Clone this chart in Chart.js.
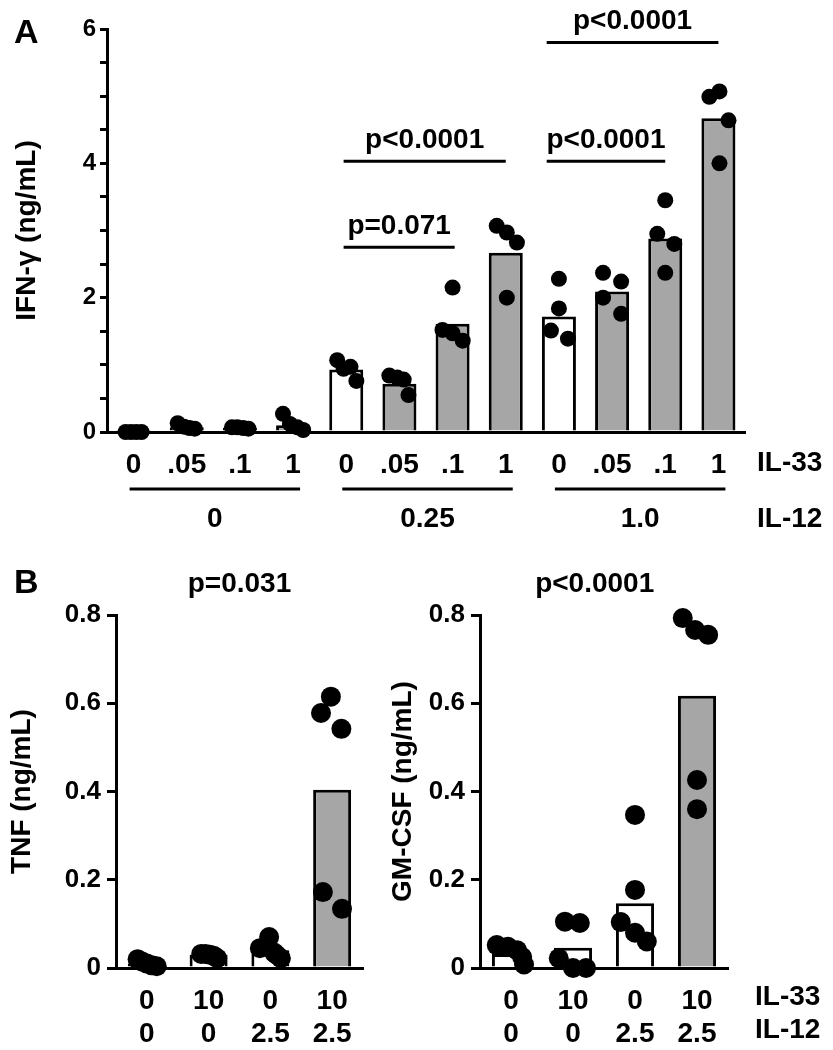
<!DOCTYPE html>
<html lang="en">
<head>
<meta charset="UTF-8" />
<title>IL-33 and IL-12 cytokine release</title>
<script src="https://cdn.jsdelivr.net/npm/chart.js@4"></script>
<style>
  body { margin: 0; background: #fff; }
  .wrap { position: relative; width: 833px; height: 1050px; }
  canvas { position: absolute; }
  #chartA { left: 0; top: 0; }
  #chartTNF { left: 0; top: 545px; }
  #chartGM { left: 385px; top: 545px; }
</style>
</head>
<body>
<div class="wrap">
  <canvas id="chartA" width="833" height="545"></canvas>
  <canvas id="chartTNF" width="385" height="505"></canvas>
  <canvas id="chartGM" width="448" height="505"></canvas>
</div>

<script>
  // ---------- panel A : IFN-gamma ----------
  const il33A = ['0', '.05', '.1', '1', '0', '.05', '.1', '1', '0', '.05', '.1', '1'];
  const il12A = ['0', '0.25', '1.0'];
  const ifnMean = [0.01, 0.07, 0.06, 0.1, 0.93, 0.72, 1.61, 2.67, 1.72, 2.09, 2.88, 4.67];
  const ifnPoints = [
    [0.0, 0.0, 0.0, 0.0],
    [0.13, 0.08, 0.06, 0.05],
    [0.07, 0.07, 0.06, 0.05],
    [0.27, 0.12, 0.07, 0.03],
    [1.07, 0.97, 0.94, 0.76],
    [0.84, 0.81, 0.78, 0.55],
    [2.15, 1.52, 1.47, 1.36],
    [3.07, 2.97, 2.82, 2.0],
    [2.28, 1.84, 1.51, 1.39],
    [2.37, 2.24, 2.0, 1.76],
    [3.45, 2.95, 2.8, 2.37],
    [4.99, 5.07, 4.64, 4.0]
  ];
  // horizontal scatter of the dots, in category widths
  const ifnSpread = [
    [-0.15, -0.05, 0.05, 0.15],
    [-0.17, -0.05, 0.05, 0.15],
    [-0.15, -0.05, 0.06, 0.16],
    [-0.19, -0.06, 0.08, 0.19],
    [-0.17, 0.08, -0.05, 0.19],
    [-0.19, -0.04, 0.08, 0.17],
    [0, -0.19, 0, 0.19],
    [-0.17, 0.02, 0.21, 0.02],
    [0, 0, -0.15, 0.17],
    [-0.17, 0.17, -0.17, 0.17],
    [0, -0.15, 0.17, 0],
    [-0.17, 0.02, 0.19, 0.02]
  ];
  const ifnFilled = [false, true, true, true, false, true, true, true, false, true, true, true];
  // [from category, to category, height, label]
  const ifnBrackets = [
    [3.95, 6.04, 2.75, 'p=0.071'],
    [3.95, 7.0, 4.03, 'p<0.0001'],
    [7.77, 10.0, 4.03, 'p<0.0001'],
    [7.77, 11.0, 5.8, 'p<0.0001']
  ];

  // ---------- panel B : TNF and GM-CSF ----------
  const il33B = ['0', '10', '0', '10'];
  const il12B = ['0', '0', '2.5', '2.5'];
  const tnfMean = [0.01, 0.03, 0.04, 0.404];
  const tnfPoints = [
    [0.02, 0.015, 0.01, 0.006, 0.004],
    [0.032, 0.032, 0.03, 0.028, 0.022],
    [0.045, 0.07, 0.035, 0.03, 0.022],
    [0.615, 0.578, 0.542, 0.172, 0.134]
  ];
  const tnfSpread = [
    [-0.15, -0.08, 0, 0.08, 0.16],
    [-0.12, -0.05, 0.02, 0.08, 0.14],
    [-0.17, -0.02, 0.06, 0.1, 0.17],
    [-0.02, -0.18, 0.15, -0.15, 0.16]
  ];
  const gmMean = [0.032, 0.046, 0.147, 0.617];
  const gmPoints = [
    [0.052, 0.048, 0.04, 0.025, 0.008],
    [0.105, 0.102, 0.022, 0.0, 0.0],
    [0.347, 0.177, 0.104, 0.08, 0.06],
    [0.793, 0.766, 0.755, 0.426, 0.36]
  ];
  const gmSpread = [
    [-0.23, -0.05, 0.1, 0.18, 0.21],
    [-0.13, 0.11, -0.23, 0, 0.21],
    [0, 0, -0.23, 0, 0.19],
    [-0.23, -0.03, 0.18, 0, 0]
  ];
  const filledB = [false, false, false, true];
  const pTNF = 'p=0.031';
  const pGM = 'p<0.0001';

  const FONT = "'Liberation Sans', Arial, Helvetica, sans-serif";
  const GREY = '#a6a6a6';

  function dots(points, spread) {
    return points.flatMap((vals, i) => vals.map((v, k) => ({ x: i + spread[i][k], y: v })));
  }

  function text(ctx, str, x, y, size, align, base) {
    ctx.save();
    ctx.fillStyle = '#000';
    ctx.font = 'bold ' + size + 'px ' + FONT;
    ctx.textAlign = align || 'center';
    ctx.textBaseline = base || 'alphabetic';
    ctx.fillText(str, x, y);
    ctx.restore();
  }

  function hline(ctx, x1, x2, y) {
    ctx.save();
    ctx.strokeStyle = '#000';
    ctx.lineWidth = 3;
    ctx.beginPath();
    ctx.moveTo(x1, y);
    ctx.lineTo(x2, y);
    ctx.stroke();
    ctx.restore();
  }

  function baseOptions(cfg) {
    return {
      responsive: false,
      animation: false,
      layout: { padding: cfg.padding },
      plugins: { legend: { display: false }, tooltip: { enabled: false } },
      scales: {
        x: {
          type: 'category',
          offset: true,
          grid: { display: false },
          border: { color: '#000', width: 3 },
          ticks: {
            color: '#000', autoSkip: false, maxRotation: 0, padding: cfg.xPad,
            font: { family: FONT, size: 28, weight: 'bold', lineHeight: 1.18 }
          },
          afterFit(s) { s.height = cfg.xHeight; }
        },
        // hidden linear twin of the category axis, used for the jittered dots
        xd: { type: 'linear', display: false, offset: false, min: -0.5, max: cfg.n - 0.5 },
        y: {
          min: 0, max: cfg.yMax,
          border: { color: '#000', width: 3 },
          grid: { drawOnChartArea: false, color: '#000', lineWidth: 3, tickLength: cfg.tickLen },
          ticks: {
            color: '#000', autoSkip: false, stepSize: cfg.step, padding: cfg.yPad,
            font: { family: FONT, size: cfg.yFont, weight: 'bold' },
            callback: cfg.tickLabel
          },
          title: {
            display: true, text: cfg.title, color: '#000',
            padding: { top: cfg.titlePad, bottom: 0 },
            font: { family: FONT, size: 28, weight: 'bold' }
          },
          afterFit(s) { s.width = cfg.yWidth; }
        }
      }
    };
  }

  function makeData(labels, means, filled, points, spread, barPct, radius) {
    return {
      labels: labels,
      datasets: [
        {
          type: 'bar', data: means, xAxisID: 'x', yAxisID: 'y',
          backgroundColor: filled.map(f => f ? GREY : '#fff'),
          borderColor: '#000', borderWidth: 3,
          grouped: false,
          barPercentage: barPct, categoryPercentage: 1, order: 1
        },
        {
          type: 'scatter', data: dots(points, spread), xAxisID: 'xd', yAxisID: 'y',
          pointRadius: radius, pointBackgroundColor: '#000', pointBorderWidth: 0,
          clip: false, order: 0
        }
      ]
    };
  }

  // ---------- chart A ----------
  const annotA = {
    id: 'annotA',
    afterDraw(chart) {
      const ctx = chart.ctx;
      const xs = chart.scales.xd, ys = chart.scales.y, area = chart.chartArea;
      text(ctx, 'A', 14, 43, 34, 'left');
      ifnBrackets.forEach(([a, b, h, label]) => {
        const x1 = xs.getPixelForValue(a), x2 = xs.getPixelForValue(b), y = ys.getPixelForValue(h);
        hline(ctx, x1, x2, y);
        text(ctx, label, (x1 + x2) / 2, y - 13, 28);
      });
      il12A.forEach((lab, g) => {
        const x1 = xs.getPixelForValue(4 * g) - 4, x2 = xs.getPixelForValue(4 * g + 3) + 7;
        hline(ctx, x1, x2, area.bottom + 57);
        text(ctx, lab, (x1 + x2) / 2, area.bottom + 87, 28, 'center', 'middle');
      });
      text(ctx, 'IL-33', 757, area.bottom + 31, 28, 'left', 'middle');
      text(ctx, 'IL-12', 757, area.bottom + 87, 28, 'left', 'middle');
    }
  };

  new Chart(document.getElementById('chartA'), {
    type: 'bar',
    data: makeData(il33A, ifnMean, ifnFilled, ifnPoints, ifnSpread, 0.64, 8),
    options: baseOptions({
      padding: { top: 29, right: 88, left: 0, bottom: 0 },
      n: 12, xPad: 9, xHeight: 113, yMax: 6, step: 0.5, tickLen: 7, yPad: 4, yFont: 24,
      tickLabel: v => (v % 2 === 0 ? v : ''),
      title: 'IFN-γ (ng/mL)', titlePad: 10, yWidth: 107
    }),
    plugins: [annotA]
  });

  // ---------- chart B ----------
  function annotB(id, letter, pText, pAt, rowLabels) {
    return {
      id: id,
      afterDraw(chart) {
        const ctx = chart.ctx;
        const xs = chart.scales.xd, area = chart.chartArea;
        if (letter) text(ctx, letter, 14, 48, 34, 'left');
        text(ctx, pText, xs.getPixelForValue(pAt), 47, 28);
        if (rowLabels) {
          text(ctx, 'IL-33', 370, area.bottom + 29, 28, 'left', 'middle');
          text(ctx, 'IL-12', 370, area.bottom + 62, 28, 'left', 'middle');
        }
      }
    };
  }

  const labelsB = il33B.map((v, i) => [v, il12B[i]]);

  new Chart(document.getElementById('chartTNF'), {
    type: 'bar',
    data: makeData(labelsB, tnfMean, filledB, tnfPoints, tnfSpread, 0.615, 10),
    options: baseOptions({
      padding: { top: 70, right: 22, left: 0, bottom: 0 },
      n: 4, xPad: 9, xHeight: 82, yMax: 0.8, step: 0.2, tickLen: 9, yPad: 6, yFont: 26,
      tickLabel: v => (v === 0 ? '0' : v.toFixed(1)),
      title: 'TNF (ng/mL)', titlePad: 5, yWidth: 116
    }),
    plugins: [annotB('annotTNF', 'B', pTNF, 1.5, false)]
  });

  new Chart(document.getElementById('chartGM'), {
    type: 'bar',
    data: makeData(labelsB, gmMean, filledB, gmPoints, gmSpread, 0.615, 10),
    options: baseOptions({
      padding: { top: 70, right: 105, left: 0, bottom: 0 },
      n: 4, xPad: 9, xHeight: 82, yMax: 0.8, step: 0.2, tickLen: 9, yPad: 6, yFont: 26,
      tickLabel: v => (v === 0 ? '0' : v.toFixed(1)),
      title: 'GM-CSF (ng/mL)', titlePad: 1, yWidth: 95
    }),
    plugins: [annotB('annotGM', null, pGM, 1.35, true)]
  });
</script>
</body>
</html>
